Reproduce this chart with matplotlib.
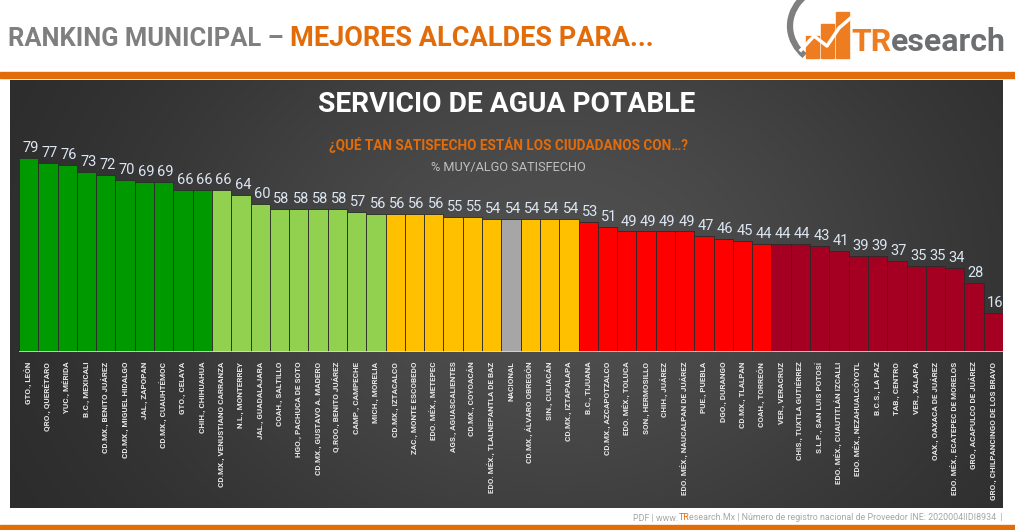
import matplotlib
matplotlib.use("Agg")
import matplotlib.pyplot as plt
import numpy as np
from matplotlib.patches import Rectangle, Arc

municipios = [
    "GTO., LEÓN", "QRO., QUERÉTARO", "YUC., MÉRIDA", "B.C., MEXICALI",
    "CD.MX., BENITO JUÁREZ", "CD.MX., MIGUEL HIDALGO", "JAL., ZAPOPAN",
    "CD.MX., CUAUHTÉMOC", "GTO., CELAYA", "CHIH., CHIHUAHUA",
    "CD.MX., VENUSTIANO CARRANZA", "N.L., MONTERREY", "JAL., GUADALAJARA",
    "COAH., SALTILLO", "HGO., PACHUCA DE SOTO", "CD.MX., GUSTAVO A. MADERO",
    "Q.ROO., BENITO JUÁREZ", "CAMP., CAMPECHE", "MICH., MORELIA",
    "CD.MX., IZTACALCO", "ZAC., MONTE ESCOBEDO", "EDO. MÉX., METEPEC",
    "AGS., AGUASCALIENTES", "CD.MX., COYOACÁN", "EDO. MÉX., TLALNEPANTLA DE BAZ",
    "NACIONAL", "CD.MX., ÁLVARO OBREGÓN", "SIN., CULIACÁN", "CD.MX., IZTAPALAPA",
    "B.C., TIJUANA", "CD.MX., AZCAPOTZALCO", "EDO. MÉX., TOLUCA",
    "SON., HERMOSILLO", "CHIH., JUÁREZ", "EDO. MÉX., NAUCALPAN DE JUÁREZ",
    "PUE., PUEBLA", "DGO., DURANGO", "CD.MX., TLALPAN", "COAH., TORREÓN",
    "VER., VERACRUZ", "CHIS., TUXTLA GUTIÉRREZ", "S.L.P., SAN LUIS POTOSÍ",
    "EDO. MÉX., CUAUTITLÁN IZCALLI", "EDO. MÉX., NEZAHUALCÓYOTL",
    "B.C.S., LA PAZ", "TAB., CENTRO", "VER., XALAPA", "OAX., OAXACA DE JUÁREZ",
    "EDO. MÉX., ECATEPEC DE MORELOS", "GRO., ACAPULCO DE JUÁREZ",
    "GRO., CHILPANCINGO DE LOS BRAVO",
]
satisfaccion = [
    79, 77, 76, 73, 72, 70, 69, 69, 66, 66,
    66, 64, 60, 58, 58, 58, 58, 57, 56,
    56, 56, 56, 55, 55, 54, 54, 54, 54, 54,
    53, 51, 49, 49, 49, 49, 47, 46, 45, 44,
    44, 44, 43, 41, 39, 39, 37, 35, 35, 34, 28, 16,
]
grupo = (["alto"] * 10 + ["medio_alto"] * 9 + ["medio"] * 6 + ["nacional"] +
         ["medio"] * 3 + ["bajo"] * 10 + ["muy_bajo"] * 12)

colores = {"alto": "#009900", "medio_alto": "#92D050", "medio": "#FFC000",
           "nacional": "#A6A6A6", "bajo": "#FF0000", "muy_bajo": "#A50021"}

plt.rcParams["font.family"] = ["Roboto", "DejaVu Sans"]

W, H = 1015, 530
fig = plt.figure(figsize=(W / 100, H / 100), dpi=100)
fig.patch.set_facecolor("white")

bg = fig.add_axes([0, 0, 1, 1])
bg.set_xlim(0, W)
bg.set_ylim(H, 0)
bg.axis("off")


def fit(txt, target_w):
    fig.canvas.draw()
    w = txt.get_window_extent().width
    txt.set_fontsize(txt.get_fontsize() * target_w / w)


def chain(x0, y, parts, size, **kw):
    """Draw consecutive text pieces with their own colours, left to right."""
    xc = x0
    for s, c in parts:
        t = bg.text(xc, y, s, fontsize=size, color=c, ha="left", va="center", **kw)
        fig.canvas.draw()
        xc = t.get_window_extent().x1
    return xc


# dark gradient panel
px0, px1, py0, py1 = 10, 1003, 80, 508
xx = np.linspace(0, 1, 300)
yy = np.linspace(0, 1, 150)
X, Y = np.meshgrid(xx, yy)
d = np.exp(-(((X - 0.55) / 0.45) ** 2) - (((Y - 0.45) / 0.8) ** 2))
grad = 0.15 + 0.16 * d
img = np.dstack([grad, grad, grad])
bg.imshow(img, extent=[px0, px1, py1, py0], aspect="auto", zorder=0, interpolation="bilinear")

# orange lines
bg.add_patch(Rectangle((0, 72), W, 6, color="#E36C0A", zorder=1))
bg.add_patch(Rectangle((0, 525), W, 6, color="#E36C0A", zorder=1))

# header title
t1 = bg.text(8, 39, "RANKING MUNICIPAL – ", fontsize=25, color="#7F7F7F",
             fontweight="bold", va="center", ha="left", zorder=3)
fit(t1, 282)
fig.canvas.draw()
x1 = t1.get_window_extent().x1
t2 = bg.text(x1, 39, "MEJORES ALCALDES PARA...", fontsize=25, color="#E36C0A",
             fontweight="bold", va="center", ha="left", zorder=3)
fit(t2, 655 - x1)

# logo
bg.add_patch(Arc((840, 26), 100, 84, theta1=140, theta2=300, color="#7F7F7F", lw=4.5, zorder=3))
for bx, bh in [(806, 22), (821, 34), (836, 46)]:
    bg.add_patch(Rectangle((bx, 58 - bh), 13, bh, color="#EE7D22", zorder=3))
bg.plot([801, 814, 827, 839, 853], [50, 36, 46, 28, 16], color="white", lw=2.5, zorder=4)
chain(851, 42, [("TR", "#EE7D22"), ("esearch", "#6D6E71")], 23, fontweight="bold", zorder=4)

# chart titles
tt = bg.text(507, 105, "SERVICIO DE AGUA POTABLE", fontsize=25, color="white",
             fontweight="bold", ha="center", va="center", zorder=3)
fit(tt, 378)
ts = bg.text(509, 145, "¿QUÉ TAN SATISFECHO ESTÁN LOS CIUDADANOS CON…?", fontsize=12,
             color="#E36C0A", fontweight="bold", ha="center", va="center", zorder=3)
fit(ts, 358)
tu = bg.text(508, 167, "% MUY/ALGO SATISFECHO", fontsize=11, color="#BFBFBF",
             ha="center", va="center", zorder=3)
fit(tu, 155)

# footer (measure whole line, then draw it in coloured pieces)
footer = [("PDF | www.", "#A6A6A6"), ("TR", "#E36C0A"),
          ("esearch.Mx | Número de registro nacional de Proveedor INE: 2020004IIDI8934  |", "#A6A6A6")]
probe = bg.text(1003, 518, "".join(p for p, _ in footer), fontsize=7.5, ha="right", va="center")
fit(probe, 372)
fig.canvas.draw()
fsize = probe.get_fontsize()
fx0 = probe.get_window_extent().x0
probe.remove()
chain(fx0, 518, footer, fsize, zorder=3)

# bar chart axes
left, right = 19, 1003
base, top = 352, 352 - 100 * 2.46
ax = fig.add_axes([left / W, (H - base) / H, (right - left) / W, (base - top) / H])
ax.patch.set_alpha(0)
x = np.arange(len(satisfaccion))
ax.bar(x, satisfaccion, width=1.0, color=[colores[g] for g in grupo],
       edgecolor="#2a2a2a", linewidth=0.6, zorder=2)
ax.set_xlim(-0.5, len(satisfaccion) - 0.5)
ax.set_ylim(0, 100)
ax.axhline(0, color="#D9D9D9", lw=1.2, zorder=3)
for s in ax.spines.values():
    s.set_visible(False)
ax.set_yticks([])
ax.set_xticks(x)
ax.set_xticklabels(municipios, rotation=90, fontsize=5.8, color="#E6E6E6",
                   fontweight="bold", va="top", ha="center")
ax.tick_params(axis="x", length=0, pad=7)
for xi, v in zip(x, satisfaccion):
    ax.text(xi + 0.1, v + 1.2, f"{v}", ha="center", va="bottom", fontsize=10.5,
            color="#DCE6F2", zorder=4)

fig.savefig("out.png", dpi=100, facecolor=fig.get_facecolor())
